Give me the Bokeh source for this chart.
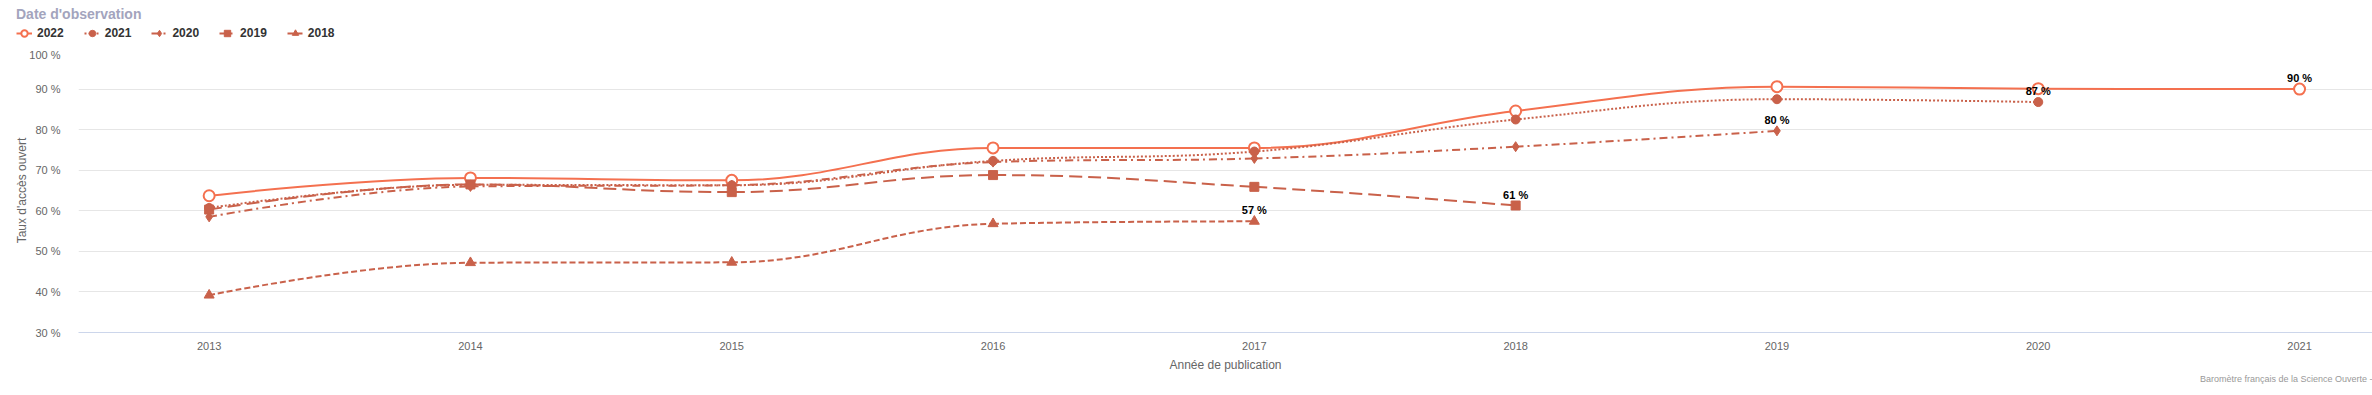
from bokeh.plotting import figure
from bokeh.models import (ColumnDataSource, Range1d, FixedTicker, Legend, LegendItem, Title)
from bokeh.embed import file_html
from bokeh.resources import INLINE

# ---- data ----
years_2022 = [2013, 2014, 2015, 2016, 2017, 2018, 2019, 2020, 2021]
obs_2022 = [63.7, 68.1, 67.5, 75.5, 75.5, 84.6, 90.6, 90.1, 90.0]
years_2021 = [2013, 2014, 2015, 2016, 2017, 2018, 2019, 2020]
obs_2021 = [60.7, 66.4, 66.3, 72.3, 74.6, 82.5, 87.5, 86.8]
years_2020 = [2013, 2014, 2015, 2016, 2017, 2018, 2019]
obs_2020 = [58.5, 66.0, 66.3, 72.0, 72.9, 75.8, 79.7]
years_2019 = [2013, 2014, 2015, 2016, 2017, 2018]
obs_2019 = [60.3, 66.5, 64.6, 68.8, 65.9, 61.3]
years_2018 = [2013, 2014, 2015, 2016, 2017]
obs_2018 = [39.2, 47.2, 47.3, 56.8, 57.4]

series_names = ["2022", "2021", "2020", "2019", "2018"]
y_ticks = [30, 40, 50, 60, 70, 80, 90, 100]
y_tick_labels = ["30 %", "40 %", "50 %", "60 %", "70 %", "80 %", "90 %", "100 %"]
x_ticks = [2013, 2014, 2015, 2016, 2017, 2018, 2019, 2020, 2021]
x_tick_labels = ["2013", "2014", "2015", "2016", "2017", "2018", "2019", "2020", "2021"]

ORANGE = "#F4704F"
RED = "#C9614A"

styles = [
    dict(color=ORANGE, dash="solid", marker="circle", size=11, fill="white"),
    dict(color=RED, dash="2 2", marker="circle", size=9, fill=RED),
    dict(color=RED, dash="8 4 2 4", marker="diamond", size=10, fill=RED),
    dict(color=RED, dash="13 6", marker="square", size=9, fill=RED),
    dict(color=RED, dash="6 3", marker="triangle", size=10, fill=RED),
]


def spline_controls(xs, ys, smoothing=1.5):
    n = len(xs)
    lc = [(xs[i], ys[i]) for i in range(n)]
    rc = [(xs[i], ys[i]) for i in range(n)]
    for i in range(1, n - 1):
        px, py = xs[i], ys[i]
        lx, ly = xs[i - 1], ys[i - 1]
        nx, ny = xs[i + 1], ys[i + 1]
        d = smoothing + 1
        lcx = (smoothing * px + lx) / d
        lcy = (smoothing * py + ly) / d
        rcx = (smoothing * px + nx) / d
        rcy = (smoothing * py + ny) / d
        if rcx != lcx:
            corr = ((rcy - lcy) * (rcx - px)) / (rcx - lcx) + py - rcy
            lcy += corr
            rcy += corr
        if lcy > max(ly, py):
            lcy = max(ly, py); rcy = 2 * py - lcy
        elif lcy < min(ly, py):
            lcy = min(ly, py); rcy = 2 * py - lcy
        if rcy > max(py, ny):
            rcy = max(py, ny); lcy = 2 * py - rcy
        elif rcy < min(py, ny):
            rcy = min(py, ny); lcy = 2 * py - rcy
        lc[i] = (lcx, lcy)
        rc[i] = (rcx, rcy)
    seg = dict(x0=[], y0=[], x1=[], y1=[], cx0=[], cy0=[], cx1=[], cy1=[])
    for i in range(1, n):
        seg["x0"].append(xs[i - 1]); seg["y0"].append(ys[i - 1])
        seg["x1"].append(xs[i]); seg["y1"].append(ys[i])
        seg["cx0"].append(rc[i - 1][0]); seg["cy0"].append(rc[i - 1][1])
        seg["cx1"].append(lc[i][0]); seg["cy1"].append(lc[i][1])
    return seg


W = 2372
x_start = 2012.5
x_end = 2012.5 + 2294 / 261.3

p = figure(width=W, height=347, output_backend="svg", toolbar_location=None, title=None,
           x_range=Range1d(x_start, x_end), y_range=Range1d(30, 100),
           min_border_left=78, min_border_right=0, min_border_top=0, min_border_bottom=63)
p.outline_line_color = None
p.background_fill_color = "white"
p.border_fill_color = "white"

p.xgrid.grid_line_color = None
p.ygrid.grid_line_color = "#e6e6e6"
p.ygrid.ticker = FixedTicker(ticks=y_ticks)

p.yaxis.ticker = FixedTicker(ticks=y_ticks)
p.yaxis.major_label_overrides = dict(zip(y_ticks, y_tick_labels))
p.yaxis.axis_line_color = None
p.yaxis.major_tick_line_color = None
p.yaxis.minor_tick_line_color = None
p.yaxis.major_label_text_font = "Liberation Sans"
p.yaxis.major_label_text_font_size = "11px"
p.yaxis.major_label_text_color = "#666666"
p.yaxis.major_label_standoff = 12
p.yaxis.axis_label = "Taux d'accès ouvert"
p.yaxis.axis_label_text_font = "Liberation Sans"
p.yaxis.axis_label_text_font_size = "12px"
p.yaxis.axis_label_text_font_style = "normal"
p.yaxis.axis_label_text_color = "#666666"
p.yaxis.axis_label_standoff = -3

p.xaxis.ticker = FixedTicker(ticks=x_ticks)
p.xaxis.major_label_overrides = dict(zip(x_ticks, x_tick_labels))
p.xaxis.axis_line_color = "#ccd6eb"
p.xaxis.major_tick_line_color = None
p.xaxis.minor_tick_line_color = None
p.xaxis.major_label_text_font = "Liberation Sans"
p.xaxis.major_label_text_font_size = "11px"
p.xaxis.major_label_text_color = "#666666"
p.xaxis.major_label_standoff = 3

all_series = [(years_2022, obs_2022), (years_2021, obs_2021), (years_2020, obs_2020),
              (years_2019, obs_2019), (years_2018, obs_2018)]

# legend strip (separate small figure, separate root, above the chart)
lg = figure(width=W, height=48, output_backend="svg", toolbar_location=None,
            x_range=Range1d(0, 1), y_range=Range1d(0, 1),
            x_axis_location=None, y_axis_location=None,
            min_border_left=0, min_border_right=0, min_border_top=0, min_border_bottom=0)
lg.outline_line_color = None
lg.xgrid.visible = False
lg.ygrid.visible = False
lg.background_fill_color = "white"
lg.border_fill_color = "white"

items = []
for name, (xs, ys), st in zip(series_names, all_series, styles):
    seg = spline_controls(xs, ys)
    p.bezier(x0="x0", y0="y0", x1="x1", y1="y1", cx0="cx0", cy0="cy0",
             cx1="cx1", cy1="cy1", source=ColumnDataSource(seg),
             line_color=st["color"], line_width=2, line_dash=st["dash"])
    p.scatter(x=xs, y=ys, marker=st["marker"], size=st["size"],
              fill_color=st["fill"], line_color=st["color"],
              line_width=2 if st["fill"] == "white" else 1)
    # legend swatches: one off-range point each, styles only
    lr = lg.line(x=[-5, -4], y=[-5, -5], line_color=st["color"], line_width=2,
                 line_dash=st["dash"])
    lm = lg.scatter(x=[-5], y=[-5], marker=st["marker"], size=st["size"] - 1,
                    fill_color=st["fill"], line_color=st["color"],
                    line_width=2 if st["fill"] == "white" else 1)
    items.append(LegendItem(label=name, renderers=[lr, lm]))

# end-of-series labels
lab_x = [years_2018[-1], years_2019[-1], years_2020[-1], years_2021[-1], years_2022[-1]]
lab_y = [obs_2018[-1], obs_2019[-1], obs_2020[-1], obs_2021[-1], obs_2022[-1]]
lab_t = ["%d %%" % round(v) for v in lab_y]
p.text(x=lab_x, y=lab_y, text=lab_t, text_align="center", text_baseline="middle",
       y_offset=-11, text_font_size="11px", text_font_style="bold",
       text_color="#000000", text_font={"value": "Liberation Sans"})

legend = Legend(items=items, orientation="horizontal", location=(14, 5),
                title="Date d'observation", title_text_font="Liberation Sans",
                title_text_font_size="14px", title_text_font_style="bold",
                title_text_color="#A3A4BD", title_standoff=3,
                label_text_font="Liberation Sans", label_text_font_size="12px",
                label_text_font_style="bold", label_text_color="#333333",
                glyph_width=16, glyph_height=16, label_height=16, label_standoff=5,
                spacing=20, padding=2, margin=0,
                background_fill_alpha=0, border_line_alpha=0)
lg.add_layout(legend, "center")

p.add_layout(Title(text="Année de publication", align="center", offset=29,
                   text_font="Liberation Sans", text_font_size="12px",
                   text_font_style="normal", text_color="#666666", standoff=7), "below")
p.add_layout(Title(text="Baromètre français de la Science Ouverte -", align="right",
                   text_font="Liberation Sans", text_font_size="9px",
                   text_font_style="normal", text_color="#999999", standoff=-7), "below")

open("out.html", "w").write(file_html([lg, p], INLINE))
